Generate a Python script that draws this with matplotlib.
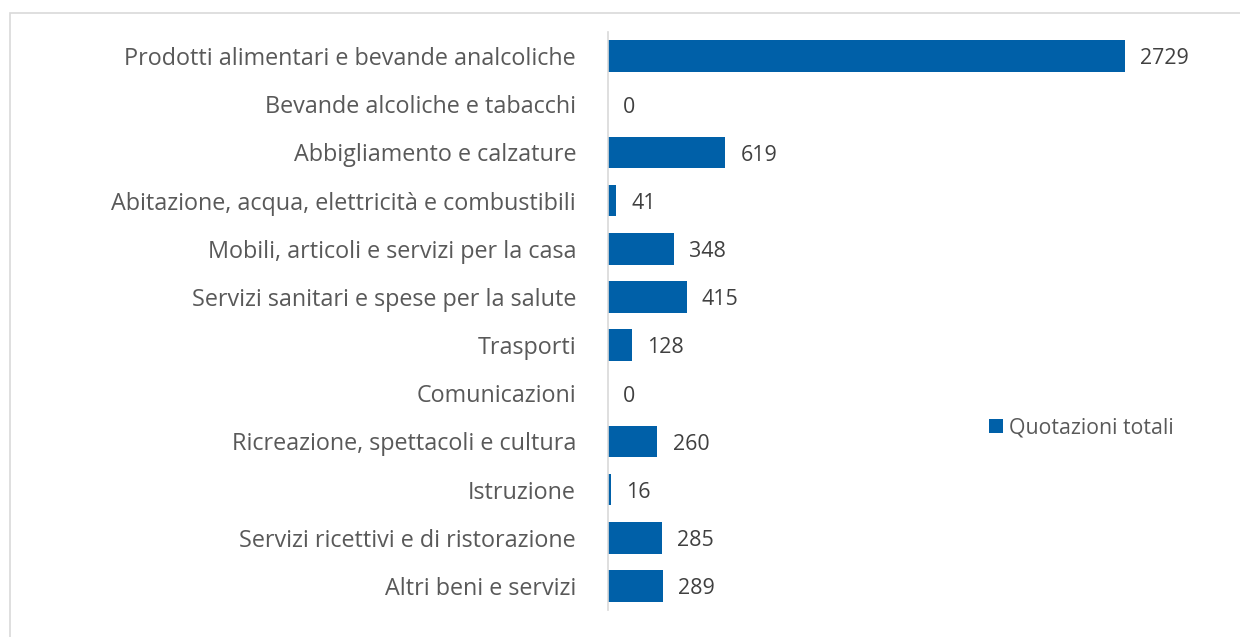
import matplotlib.pyplot as plt
from matplotlib.patches import Rectangle

categorie = [
    "Prodotti alimentari e bevande analcoliche",
    "Bevande alcoliche e tabacchi",
    "Abbigliamento e calzature",
    "Abitazione, acqua, elettricità e combustibili",
    "Mobili, articoli e servizi per la casa",
    "Servizi sanitari e spese per la salute",
    "Trasporti",
    "Comunicazioni",
    "Ricreazione, spettacoli e cultura",
    "Istruzione",
    "Servizi ricettivi e di ristorazione",
    "Altri beni e servizi",
]
quotazioni = [2729, 0, 619, 41, 348, 415, 128, 0, 260, 16, 285, 289]

BLU = "#0060A8"
GRIGIO = "#595959"

plt.rcParams["font.family"] = ["Open Sans", "DejaVu Sans"]

fig = plt.figure(figsize=(12.4, 6.37), dpi=100)
W, H = 1240, 637
ax = fig.add_axes([608 / W, 1 - 610 / H, (1176 - 608) / W, (610 - 32) / H])

y = list(range(len(categorie)))
ax.barh(y, quotazioni, height=0.66, color=BLU, label="Quotazioni totali")
ax.set_ylim(len(categorie) - 0.5, -0.5)
ax.set_xlim(0, 3000)
ax.set_yticks(y, categorie)
ax.tick_params(axis="y", length=0, pad=23, labelsize=16.8, labelcolor=GRIGIO)
ax.set_xticks([])
for s in ["top", "right", "bottom"]:
    ax.spines[s].set_visible(False)
ax.spines["left"].set_color("#d9d9d9")
ax.spines["left"].set_linewidth(1.2)

for yi, v in zip(y, quotazioni):
    ax.annotate(str(v), (v, yi), xytext=(11, -2), textcoords="offset points",
                va="center", ha="left", fontsize=15.4, color="#404040")

ax.legend(loc="center left", bbox_to_anchor=(970 / W, 1 - 428 / H),
          bbox_transform=fig.transFigure, frameon=False, fontsize=15.3,
          labelcolor=GRIGIO, handlelength=0.65, handleheight=0.65,
          handletextpad=0.3)

# cornice del grafico
fig.patches.append(Rectangle((9.5 / W, -0.1), 1.2, 1 - 12.5 / H + 0.1,
                             transform=fig.transFigure, fill=False,
                             edgecolor="#d9d9d9", linewidth=1.2))

fig.savefig("out.png", dpi=100)
